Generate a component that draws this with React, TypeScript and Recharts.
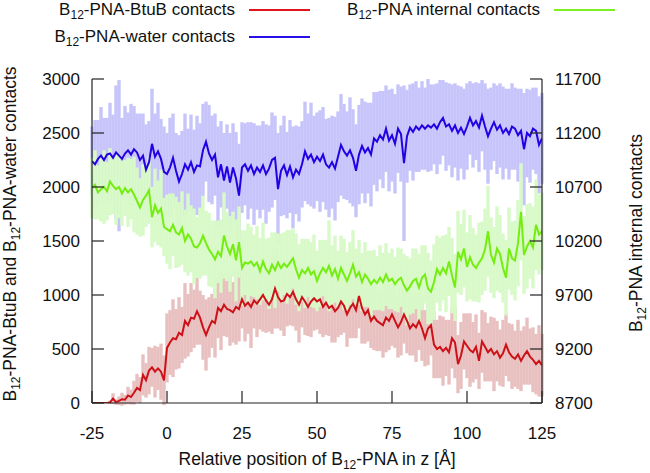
import { ComposedChart, ErrorBar, Line, XAxis, YAxis } from 'recharts';

const FONT = '"Liberation Sans", Arial, Helvetica, sans-serif';

// sampling grid along z, 1 Å steps from -25 to 125
const positions = Array.from({ length: 151 }, (_, i) => i - 25);

// B12-PNA-BtuB contacts (left axis)
const btubMean = [
  0, 0, 0, 0, 0, 0, 5, 40, 8, 20,
  35, 30, 70, 55, 95, 140, 120, 260, 210, 300,
  330, 290, 320, 290, 210, 510, 560, 600, 590, 650,
  630, 760, 720, 790, 780, 850, 790, 700, 630, 700,
  760, 740, 880, 850, 910, 870, 860, 840, 890, 870,
  960, 900, 930, 890, 950, 920, 960, 1000, 950, 910,
  960, 1060, 980, 940, 950, 1010, 980, 1030, 960, 910,
  980, 940, 890, 940, 970, 940, 960, 890, 930, 880,
  900, 850, 880, 940, 900, 820, 880, 920, 860, 990,
  880, 820, 860, 760, 800, 760, 740, 720, 790, 760,
  820, 760, 700, 750, 820, 760, 690, 730, 700, 760,
  690, 600, 690, 720, 540, 500, 520, 480, 510, 470,
  600, 560, 360, 440, 570, 530, 490, 470, 520, 390,
  570, 520, 470, 500, 450, 480, 420, 460, 540, 470,
  430, 410, 450, 390, 440, 480, 430, 400, 360, 390,
  350,
];
const btubErr = [
  0, 0, 0, 0, 0, 0, 15, 50, 25, 40,
  60, 45, 80, 70, 110, 130, 120, 190, 160, 220,
  180, 240, 200, 260, 230, 320, 300, 360, 280, 330,
  260, 350, 290, 320, 270, 310, 250, 300, 330, 280,
  250, 320, 280, 360, 290, 260, 330, 280, 350, 300,
  270, 330, 290, 380, 260, 310, 280, 340, 300, 250,
  320, 370, 290, 270, 330, 300, 260, 320, 290, 350,
  280, 310, 270, 330, 300, 260, 320, 280, 300, 260,
  340, 290, 270, 310, 250, 300, 280, 320, 260, 300,
  330, 270, 290, 250, 310, 280, 260, 300, 320, 270,
  290, 250, 280, 310, 270, 300, 250, 290, 320, 270,
  300, 260, 340, 280, 310, 270, 290, 320, 260, 300,
  280, 330, 270, 310, 260, 300, 340, 280, 300, 260,
  290, 320, 270, 300, 340, 280, 260, 310, 290, 270,
  300, 260, 320, 280, 270, 310, 260, 300, 280, 330,
  290,
];

// B12-PNA-water contacts (left axis)
const waterMean = [
  2240, 2210, 2260, 2290, 2250, 2300, 2310, 2270, 2320, 2290,
  2260, 2310, 2340, 2300, 2350, 2320, 2250, 2290, 2160, 2230,
  2400, 2280, 2330, 2260, 2140, 2120, 2180, 2270, 2150, 2050,
  2120, 2210, 2160, 2230, 2140, 2200, 2190, 2340, 2420, 2310,
  2250, 2300, 2090, 2210, 2060, 2190, 2040, 2180, 2080, 1920,
  2180, 2210, 2150, 2200, 2120, 2180, 2140, 2200, 2120, 2170,
  2250, 2270, 1980, 2150, 2200, 2110, 2190, 2090, 2160, 2120,
  2210, 2330, 2260, 2300, 2230, 2280, 2240, 2300, 2210, 2180,
  2230, 2170, 2280, 2390, 2330, 2290, 2340, 2270, 2150, 2300,
  2380, 2320, 2360, 2300, 2450, 2420, 2480, 2440, 2540, 2430,
  2480, 2400, 2540, 2490, 2220, 2470, 2550, 2510, 2560, 2530,
  2570, 2540, 2570, 2550, 2580, 2540, 2600, 2640, 2560, 2580,
  2520, 2570, 2500, 2550, 2490, 2560, 2640, 2570, 2610, 2550,
  2660, 2560, 2470, 2540, 2600, 2530, 2570, 2500, 2540, 2490,
  2560, 2540, 2480, 2520, 2350, 2500, 2470, 2540, 2520, 2390,
  2450,
];
const waterErr = [
  320, 410, 360, 450, 390, 340, 470, 400, 620, 700,
  380, 440, 350, 470, 400, 360, 430, 390, 420, 380,
  510, 400, 450, 370, 420, 380, 460, 410, 350, 430,
  400, 470, 380, 440, 390, 460, 400, 430, 370, 450,
  410, 380, 470, 400, 440, 390, 460, 410, 430, 480,
  420, 380, 450, 400, 470, 390, 430, 410, 460, 400,
  440, 390, 520, 420, 460, 400, 430, 470, 410, 440,
  400, 460, 420, 480, 430, 410, 470, 440, 420, 460,
  430, 480, 420, 470, 440, 410, 490, 450, 430, 460,
  440, 470, 420, 480, 430, 460, 410, 450, 400, 470,
  430, 460, 410, 440, 720, 430, 400, 450, 420, 390,
  410, 380, 430, 400, 370, 420, 390, 350, 410, 380,
  430, 390, 440, 380, 420, 400, 340, 390, 360, 410,
  330, 400, 440, 380, 360, 410, 390, 430, 370, 420,
  400, 380, 430, 390, 520, 410, 430, 380, 400, 450,
  420,
];

// B12-PNA internal contacts (right axis)
const internalMean = [
  10690, 10720, 10650, 10680, 10700, 10660, 10750, 10710, 10680, 10700,
  10640, 10690, 10650, 10680, 10630, 10570, 10510, 10580, 10620, 10670,
  10420, 10530, 10460, 10500, 10330, 10310, 10290, 10350, 10280, 10260,
  10320, 10200, 10260, 10220, 10150, 10140, 10180, 10250, 10180, 10120,
  10080, 10030, 10100, 10060, 10250, 10150, 10080, 10170, 10020, 10190,
  9950, 10000, 9990, 10010, 9970, 10000, 9920, 10010, 9940, 9900,
  9980, 9930, 10000, 9950, 9990, 9960, 10000, 10040, 9940, 9860,
  9930, 9900, 9950, 9890, 9920, 9830, 9900, 9950, 9910, 9970,
  9880, 9940, 9850, 9950, 9890, 9830, 9900, 9980, 9870, 9910,
  9820, 9890, 9850, 9800, 9840, 9810, 9860, 9820, 9890, 9830,
  9850, 9800, 9840, 9860, 9790, 9740, 9780, 9830, 9850, 9770,
  9860, 9890, 9760, 9730, 9820, 9940, 9890, 9950, 9900, 10010,
  9880, 9770, 10100, 10030, 10130, 9960, 10050, 9980, 9950, 10000,
  10040, 10120, 10290, 10070, 10000, 10130, 10080, 9950, 9860, 10130,
  10040, 10020, 10180, 10470, 10070, 10150, 10200, 10140, 10350, 10260,
  10290,
];
const internalErr = [
  280, 320, 250, 300, 340, 270, 310, 260, 330, 290,
  300, 260, 320, 280, 350, 310, 270, 330, 290, 310,
  280, 340, 300, 360, 270, 320, 350, 290, 330, 300,
  340, 290, 380, 310, 350, 280, 330, 370, 300, 340,
  310, 360, 290, 340, 400, 320, 350, 300, 380, 330,
  350, 300, 370, 320, 290, 340, 310, 360, 280, 330,
  300, 350, 270, 320, 290, 340, 300, 280, 330, 310,
  290, 320, 270, 300, 340, 280, 310, 260, 300, 420,
  280, 310, 260, 300, 330, 270, 290, 320, 260, 300,
  270, 300, 260, 310, 280, 250, 300, 270, 290, 260,
  280, 250, 300, 270, 290, 320, 260, 300, 280, 310,
  300, 270, 330, 290, 350, 310, 340, 300, 360, 320,
  350, 310, 380, 330, 360, 320, 390, 340, 310, 370,
  340, 380, 420, 350, 330, 390, 360, 320, 350, 380,
  340, 370, 400, 450, 360, 390, 350, 380, 420, 370,
  360,
];

const xTicks = [-25, 0, 25, 50, 75, 100, 125];
const leftTicks = [0, 500, 1000, 1500, 2000, 2500, 3000];
const rightTicks = [8700, 9200, 9700, 10200, 10700, 11200, 11700];

const data = positions.map((z, i) => ({
  z,
  btub: btubMean[i],
  btubErr: btubErr[i],
  water: waterMean[i],
  waterErr: waterErr[i],
  internal: internalMean[i],
  internalErr: internalErr[i],
}));

const AXIS = '#222';
const TXT = '#111';
const TICK_FS = 17;
const TITLE_FS = 17.5;

const XTick = ({ x, y, payload }: any) => (
  <g>
    <line x1={x} x2={x} y1={y} y2={y - 12} stroke={AXIS} strokeWidth={1.2} />
    <text x={x} y={y + 36} textAnchor="middle" fontSize={TICK_FS} fill={TXT} fontFamily={FONT}>
      {payload.value}
    </text>
  </g>
);

const LeftTick = ({ x, y, payload }: any) => (
  <g>
    <line x1={x} x2={x + 12} y1={y} y2={y} stroke={AXIS} strokeWidth={1.2} />
    <text x={x - 12} y={y + 6} textAnchor="end" fontSize={TICK_FS} fill={TXT} fontFamily={FONT}>
      {payload.value}
    </text>
  </g>
);

const RightTick = ({ x, y, payload }: any) => (
  <g>
    <line x1={x} x2={x - 12} y1={y} y2={y} stroke={AXIS} strokeWidth={1.2} />
    <text x={x + 13} y={y + 6} textAnchor="start" fontSize={TICK_FS} fill={TXT} fontFamily={FONT}>
      {payload.value}
    </text>
  </g>
);

const Sub = () => (
  <>
    <tspan>B</tspan>
    <tspan dy={4} fontSize={12}>12</tspan>
    <tspan dy={-4}>-PNA</tspan>
  </>
);

const XTitle = ({ viewBox }: any) => (
  <text x={viewBox.x + viewBox.width / 2} y={viewBox.y + 62} textAnchor="middle" fontSize={TITLE_FS} fill={TXT} fontFamily={FONT}>
    <tspan>Relative position of </tspan>
    <Sub />
    <tspan> in z [Å]</tspan>
  </text>
);

const LeftTitle = ({ viewBox }: any) => {
  const cx = 16;
  const cy = viewBox.y + viewBox.height / 2 - 7;
  return (
    <text x={cx} y={cy} transform={`rotate(-90 ${cx} ${cy})`} textAnchor="middle" fontSize={TITLE_FS} fill={TXT} fontFamily={FONT}>
      <Sub />
      <tspan>-BtuB and </tspan>
      <Sub />
      <tspan>-water contacts</tspan>
    </text>
  );
};

const RightTitle = ({ viewBox }: any) => {
  const cx = 642;
  const cy = viewBox.y + viewBox.height / 2 - 8;
  return (
    <text x={cx} y={cy} transform={`rotate(-90 ${cx} ${cy})`} textAnchor="middle" fontSize={TITLE_FS} fill={TXT} fontFamily={FONT}>
      <Sub />
      <tspan> internal contacts</tspan>
    </text>
  );
};

const legendItems = [
  { label: '-BtuB contacts', color: '#e0141c', right: 235, top: 10 },
  { label: '-water contacts', color: '#2a10e8', right: 235, top: 37 },
  { label: ' internal contacts', color: '#7cf020', right: 540, top: 10 },
];

const LegendBox = () => (
  <>
    {legendItems.map((it) => (
      <div key={it.label}>
        <div
          style={{
            position: 'absolute',
            right: 650 - it.right,
            top: it.top - 10,
            lineHeight: '20px',
            fontSize: 17,
            color: TXT,
            whiteSpace: 'pre',
            fontFamily: FONT,
          }}
        >
          B<sub style={{ fontSize: 12, verticalAlign: '-4px', lineHeight: 0 }}>12</sub>-PNA{it.label}
        </div>
        <div
          style={{
            position: 'absolute',
            left: it.right + 14,
            top: it.top - 1,
            width: 61,
            height: 2,
            background: it.color,
          }}
        />
      </div>
    ))}
  </>
);

export default function App() {
  return (
    <div style={{ position: 'absolute', left: 0, top: 0, width: 650, height: 473, background: '#fff' }}>
      <ComposedChart width={650} height={473} data={data} margin={{ top: 79, right: 0, bottom: 0, left: 0 }}>
        <XAxis
          dataKey="z"
          type="number"
          domain={[-25, 125]}
          ticks={xTicks}
          allowDataOverflow
          height={70}
          tickSize={0}
          tickMargin={0}
          tickLine={false}
          tick={<XTick />}
          stroke={AXIS}
          strokeWidth={1.2}
          label={{ content: <XTitle /> }}
        />
        <YAxis
          yAxisId="left"
          domain={[0, 3000]}
          ticks={leftTicks}
          allowDataOverflow
          width={92}
          tickSize={0}
          tickMargin={0}
          tickLine={false}
          tick={<LeftTick />}
          stroke={AXIS}
          strokeWidth={1.2}
          label={{ content: <LeftTitle /> }}
        />
        <YAxis
          yAxisId="right"
          orientation="right"
          domain={[8700, 11700]}
          ticks={rightTicks}
          allowDataOverflow
          width={108}
          tickSize={0}
          tickMargin={0}
          tickLine={false}
          tick={<RightTick />}
          stroke={AXIS}
          strokeWidth={1.2}
          label={{ content: <RightTitle /> }}
        />

        {/* error bands first, all lines on top */}
        <Line yAxisId="left" dataKey="btub" stroke="none" dot={false} activeDot={false} isAnimationActive={false}>
          <ErrorBar dataKey="btubErr" width={0} stroke="#e9c0c0" strokeWidth={3.4} isAnimationActive={false} />
        </Line>
        <Line yAxisId="left" dataKey="water" stroke="none" dot={false} activeDot={false} isAnimationActive={false}>
          <ErrorBar dataKey="waterErr" width={0} stroke="#c6c4fa" strokeWidth={3.4} isAnimationActive={false} />
        </Line>
        <Line yAxisId="right" dataKey="internal" stroke="none" dot={false} activeDot={false} isAnimationActive={false}>
          <ErrorBar dataKey="internalErr" width={0} stroke="#d8fac8" strokeWidth={3.4} isAnimationActive={false} />
        </Line>

        <Line yAxisId="left" dataKey="btub" stroke="#cc1218" strokeWidth={2} dot={false} activeDot={false} isAnimationActive={false} />
        <Line yAxisId="left" dataKey="water" stroke="#2400e4" strokeWidth={2} dot={false} activeDot={false} isAnimationActive={false} />
        <Line yAxisId="right" dataKey="internal" stroke="#74ee10" strokeWidth={2} dot={false} activeDot={false} isAnimationActive={false} />
      </ComposedChart>
      <LegendBox />
    </div>
  );
}
